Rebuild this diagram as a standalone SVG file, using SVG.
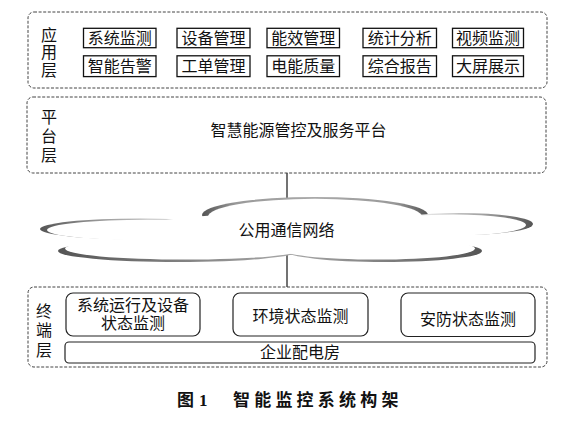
<svg xmlns="http://www.w3.org/2000/svg" width="583" height="421" viewBox="0 0 583 421">
<defs>
<style>
.t{font-family:"Liberation Serif","Noto Sans CJK SC",serif;font-size:16px;fill:#111;text-anchor:middle;dominant-baseline:central}
.layer{fill:none;stroke:#444;stroke-width:1;stroke-dasharray:3 1.6}
.sq{fill:#fff;stroke:#111;stroke-width:1.3}
.rd{fill:#fff;stroke:#222;stroke-width:1.2}
.conn{stroke:#444;stroke-width:1.5;fill:none}
.w{fill:#fff}
.cap{font-family:"Liberation Serif","Noto Sans CJK SC",serif;font-size:17px;font-weight:bold;fill:#111;dominant-baseline:central}
</style>
<linearGradient id="gL" x1="0" y1="0" x2="1" y2="0">
<stop offset="0" stop-color="#555"/><stop offset="0.3" stop-color="#999"/><stop offset="0.7" stop-color="#e0e0e0"/><stop offset="1" stop-color="#fff"/>
</linearGradient>
<linearGradient id="gR" x1="1" y1="0" x2="0" y2="0">
<stop offset="0" stop-color="#555"/><stop offset="0.3" stop-color="#999"/><stop offset="0.7" stop-color="#e0e0e0"/><stop offset="1" stop-color="#fff"/>
</linearGradient>
<linearGradient id="gBL" x1="0" y1="0" x2="1" y2="0">
<stop offset="0" stop-color="#555"/><stop offset="0.4" stop-color="#777"/><stop offset="1" stop-color="#aaa"/>
</linearGradient>
<linearGradient id="gBR" x1="1" y1="0" x2="0" y2="0">
<stop offset="0" stop-color="#555"/><stop offset="0.4" stop-color="#777"/><stop offset="1" stop-color="#aaa"/>
</linearGradient>
<linearGradient id="gT" x1="0" y1="0" x2="1" y2="0">
<stop offset="0" stop-color="#555"/><stop offset="0.15" stop-color="#999"/><stop offset="0.5" stop-color="#aaa"/><stop offset="0.85" stop-color="#999"/><stop offset="1" stop-color="#555"/>
</linearGradient>
</defs>
<rect width="583" height="421" fill="#fff"/>

<g id="connectors">
<line class="conn" x1="287" y1="173" x2="287" y2="200"/>
<line class="conn" x1="287" y1="254" x2="287" y2="287"/>
</g>

<g id="app-layer">
<rect class="layer" x="28" y="12" width="519" height="76" rx="6"/>
<text class="t" x="49" y="35">应</text>
<text class="t" x="49" y="52.5">用</text>
<text class="t" x="49" y="70">层</text>
<g id="app-xtjc"><rect class="sq" x="83.5" y="28.3" width="72.5" height="19.4"/><text class="t" x="119.8" y="38.3">系统监测</text></g>
<g id="app-sbgl"><rect class="sq" x="177" y="28.3" width="73" height="19.4"/><text class="t" x="213.5" y="38.3">设备管理</text></g>
<g id="app-nxgl"><rect class="sq" x="267" y="28.3" width="72.5" height="19.4"/><text class="t" x="303.2" y="38.3">能效管理</text></g>
<g id="app-tjfx"><rect class="sq" x="363" y="28.3" width="73.5" height="19.4"/><text class="t" x="399.7" y="38.3">统计分析</text></g>
<g id="app-spjc"><rect class="sq" x="452.5" y="28.3" width="71" height="19.4"/><text class="t" x="488" y="38.3">视频监测</text></g>
<g id="app-zngj"><rect class="sq" x="83.5" y="55.8" width="72.5" height="20.8"/><text class="t" x="119.8" y="66.2">智能告警</text></g>
<g id="app-gdgl"><rect class="sq" x="177" y="55.8" width="73" height="20.8"/><text class="t" x="213.5" y="66.2">工单管理</text></g>
<g id="app-dnzl"><rect class="sq" x="267" y="55.8" width="72.5" height="20.8"/><text class="t" x="303.2" y="66.2">电能质量</text></g>
<g id="app-zhbg"><rect class="sq" x="363" y="55.8" width="73.5" height="20.8"/><text class="t" x="399.7" y="66.2">综合报告</text></g>
<g id="app-dpzs"><rect class="sq" x="452.5" y="55.8" width="71" height="20.8"/><text class="t" x="488" y="66.2">大屏展示</text></g>
</g>

<g id="platform-layer">
<rect class="layer" x="27" y="97" width="519" height="76" rx="6"/>
<text class="t" x="49" y="117">平</text>
<text class="t" x="49" y="136">台</text>
<text class="t" x="49" y="155">层</text>
<text class="t" x="298.5" y="130">智慧能源管控及服务平台</text>
</g>

<g id="cloud">
<ellipse cx="315" cy="215" rx="113" ry="18" fill="url(#gT)"/>
<ellipse cx="140" cy="229" rx="100" ry="10.5" fill="url(#gL)"/>
<ellipse cx="178" cy="251" rx="120" ry="11" fill="url(#gBL)"/>
<ellipse cx="384" cy="251" rx="98" ry="11" fill="url(#gBR)"/>
<ellipse cx="460" cy="224" rx="73" ry="11" fill="url(#gR)"/>
<ellipse class="w" cx="315" cy="216.6" rx="107" ry="17.8"/>
<ellipse class="w" cx="147" cy="230" rx="100" ry="10.3"/>
<ellipse class="w" cx="185" cy="248.6" rx="120" ry="11"/>
<ellipse class="w" cx="377" cy="248.6" rx="98" ry="11"/>
<ellipse class="w" cx="453" cy="225" rx="73" ry="10.6"/>
<ellipse class="w" cx="290" cy="232" rx="160" ry="19"/>
<text class="t" x="286.5" y="230.5">公用通信网络</text>
</g>

<g id="terminal-layer">
<rect class="layer" x="28" y="287" width="519" height="80" rx="6"/>
<text class="t" x="44" y="311">终</text>
<text class="t" x="44" y="330">端</text>
<text class="t" x="44" y="350">层</text>
<g id="term-xtyx"><rect class="rd" x="66" y="293" width="134" height="43" rx="7"/><text class="t" x="133" y="305">系统运行及设备</text><text class="t" x="133" y="323.5">状态监测</text></g>
<g id="term-hjjc"><rect class="rd" x="233" y="293" width="135" height="43" rx="7"/><text class="t" x="300.5" y="316">环境状态监测</text></g>
<g id="term-afjc"><rect class="rd" x="401" y="293" width="134" height="43.5" rx="7"/><text class="t" x="468" y="319.5">安防状态监测</text></g>
<g id="term-pdf"><rect class="rd" x="65" y="342" width="470" height="21" rx="4"/><text class="t" x="300" y="352.5">企业配电房</text></g>
</g>

<text class="cap" x="177" y="400">图<tspan x="199">1</tspan><tspan x="233" letter-spacing="4.2">智能监控系统构架</tspan></text>
</svg>
